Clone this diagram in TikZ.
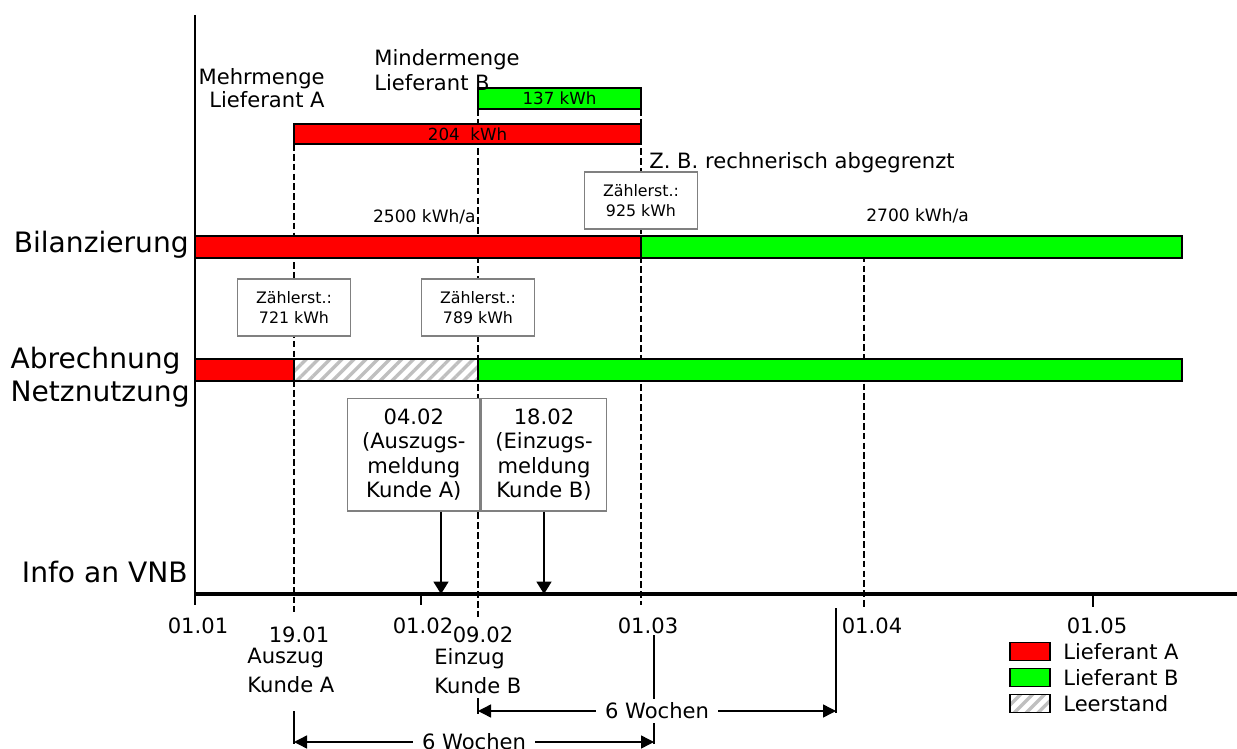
\documentclass[tikz,border=0pt]{standalone}
\usepackage{fontspec}
\setmainfont{DejaVu Sans}
\usepackage{tikz}
\usetikzlibrary{arrows.meta}
\usetikzlibrary{positioning}
\usetikzlibrary{calc}
\usetikzlibrary{patterns.meta}
\definecolor{lieferantA}{RGB}{255,0,0}
\definecolor{lieferantB}{RGB}{0,255,0}
\definecolor{boxgray}{RGB}{128,128,128}
\tikzset{bar/.style={draw,line width=.75pt}}
\tikzset{fill A/.style={bar,fill=lieferantA}}
\tikzset{fill B/.style={bar,fill=lieferantB}}
\tikzset{leer/.style={bar,preaction={fill=white},
                      pattern={Lines[angle=45,distance=4.8pt,line width=1.9pt]},
                      pattern color=black!25}}
\tikzset{date line/.style={draw,line width=.75pt,dash pattern=on 3.8pt off 1.8pt}}
\tikzset{stand/.style={draw=boxgray,
                       line width=.7pt,
                       fill=white,
                       align=center,
                       inner sep=0pt,
                       minimum width=2.26cm,
                       minimum height=1.14cm,
                       font=\fontsize{9}{11.4}\selectfont}}
\tikzset{meldung/.style={draw=boxgray,
                         line width=.7pt,
                         fill=white,
                         align=center,
                         inner sep=0pt,
                         minimum height=2.254cm,
                         font=\fontsize{12}{13.9}\selectfont}}
\newcommand{\ZST}{Zählerst.:}

\begin{document}
\begin{tikzpicture}
      [
      x=0.02cm,y=-0.02cm,
      row label/.style={inner sep=0pt,font=\fontsize{16}{18.8}\selectfont},
      date label/.style={inner sep=0pt,anchor=base,font=\fontsize{12}{16.3}\selectfont},
      note/.style={inner sep=0pt,font=\fontsize{12}{16.3}\selectfont},
      rate/.style={inner sep=0pt,font=\fontsize{9.7}{11}\selectfont},
      amount/.style={inner sep=0pt,font=\fontsize{9.5}{11}\selectfont},
      info arrow/.style={draw,line width=.75pt,-{Triangle[length=7pt,width=8.5pt]}},
      wochen/.style={draw,line width=.8pt,
      {Triangle[length=7.4pt,width=7.4pt]}-{Triangle[length=7.4pt,width=7.4pt]}},
      wochen text/.style={fill=white,inner xsep=5pt,inner ysep=2pt,
      font=\fontsize{12}{14}\selectfont},
      ]
      \useasboundingbox (0,0) rectangle (1237,749);

      % time axis
      \foreach \n/\x in {jan/195,feb/421,mar/641,apr/864,mai/1093,ausz/294,einz/478,end/1237}
      {
      \coordinate (T\n) at (\x,594);
      }
      \draw [line width=1pt] (195,15) -- (195,605);
      \draw [line width=1.9pt] (Tjan) -- (Tend);
      \draw [line width=.75pt] (Tfeb) -- ++(0,11);
      \draw [line width=.75pt] (Tmai) -- ++(0,13);

      % dashed date lines
      \foreach \n/\a/\b in {ausz/144/612,einz/109/617,mar/109/605,apr/236/607}
      {
      \path [date line] (T\n |- 0,\a) -- (T\n |- 0,\b);
      }

      % bars
      \path [fill A] (Tjan |- 0,236) rectangle (Tmar |- 0,258);
      \path [fill B] (Tmar |- 0,236) rectangle (1182,258);
      \path [fill A] (Tjan |- 0,359) rectangle (Tausz |- 0,381);
      \path [leer] (Tausz |- 0,359) rectangle (Teinz |- 0,381);
      \path [fill B] (Teinz |- 0,359) rectangle (1182,381);
      \path [fill A] (Tausz |- 0,124) rectangle node [amount] (mehrA) {204~~kWh} (Tmar |- 0,144);
      \path [fill B] (Teinz |- 0,88) rectangle node [amount] (minderB) {137 kWh} (Tmar |- 0,109);

      % row labels
      \node [row label,anchor=base east] (bilanz) at (189,253) {Bilanzierung};
      \node [row label,anchor=east,align=left] (abrech) at (190,377) {Abrechnung\\Netznutzung};
      \node [row label,anchor=base east] (info) at (188,582) {Info an VNB};

      % notes
      \node [note,anchor=north east,align=right,font=\fontsize{12}{13.3}\selectfont] (mehr)
      at (325,68) {Mehrmenge\\Lieferant A};
      \node [note,anchor=north west,align=left,font=\fontsize{12}{14.2}\selectfont] (minder)
      at (374,49) {Mindermenge\\Lieferant B};
      \node [note,anchor=base west] (abgr) at (649,169) {Z. B. rechnerisch abgegrenzt};
      \node [rate,anchor=base east] (rate A) at (476,222.5) {2500 kWh/a};
      \node [rate,anchor=base west] (rate B) at (866,222) {2700 kWh/a};

      % meter readings
      \foreach \n/\y/\v in {ausz/307.5/721,einz/307.5/789,mar/200.5/925}
      {
      \node [stand] (stand\v) at (T\n |- 0,\y) {\ZST\\\v~kWh};
      }

      % notifications
      \node [meldung,minimum width=2.646cm] (meldA) at (413.8,454.7)
      {04.02\\(Auszugs-\\meldung\\Kunde A)};
      \node [meldung,minimum width=2.514cm,right=0pt of meldA] (meldB)
      {18.02\\(Einzugs-\\meldung\\Kunde B)};
      \coordinate (TmeldA) at (441,594);
      \draw [info arrow] (meldA.south -| TmeldA) -- (TmeldA);
      \draw [info arrow] (meldB.south) -- (meldB.south |- Tend);

      % date labels
      \foreach \i/\x in {1/198,2/423,3/648,4/872,5/1097}
      {
      \node [date label] (M\i) at (\x,633) {01.0\i};
      }
      \node [date label] (Dausz) at (299,642.5) {19.01};
      \node [date label] (Deinz) at (483,642.5) {09.02};
      \node [note,anchor=north west,align=left] (auszug) at (247,648) {Auszug\\Kunde A};
      \node [note,anchor=north west,align=left] (einzug) at (434,648) {Einzug\\Kunde B};

      % six weeks
      \coordinate (W1a) at (478,711);
      \coordinate (W1b) at (836,711);
      \coordinate (W2a) at (294,742);
      \coordinate (W2b) at (654,742);
      \draw [line width=.8pt] (W1a) ++(0,-13) -- ++(0,16);
      \draw [line width=.8pt] (W1b) ++(0,-103) -- ++(0,105);
      \draw [line width=.8pt] (W2a) ++(0,-31) -- ++(0,33);
      \draw [line width=.8pt] (W2b) ++(0,-107) -- ++(0,109);
      \draw [wochen] (W1a) -- node [wochen text] (woch1) {6 Wochen} (W1b);
      \draw [wochen] (W2a) -- node [wochen text] (woch2) {6 Wochen} (W2b);

      % legend
      \foreach \i/\s/\t [evaluate=\i as \y using 651.7+\i*25.8] in
      {
      0/fill A/Lieferant A,
      1/fill B/Lieferant B,
      2/leer/Leerstand
      }
      {
      \path [\s] (1010,\y-9) rectangle (1050,\y+9);
      \node [note,anchor=west] (key\i) at (1063,\y) {\t};
      }

    \end{tikzpicture}
\end{document}
